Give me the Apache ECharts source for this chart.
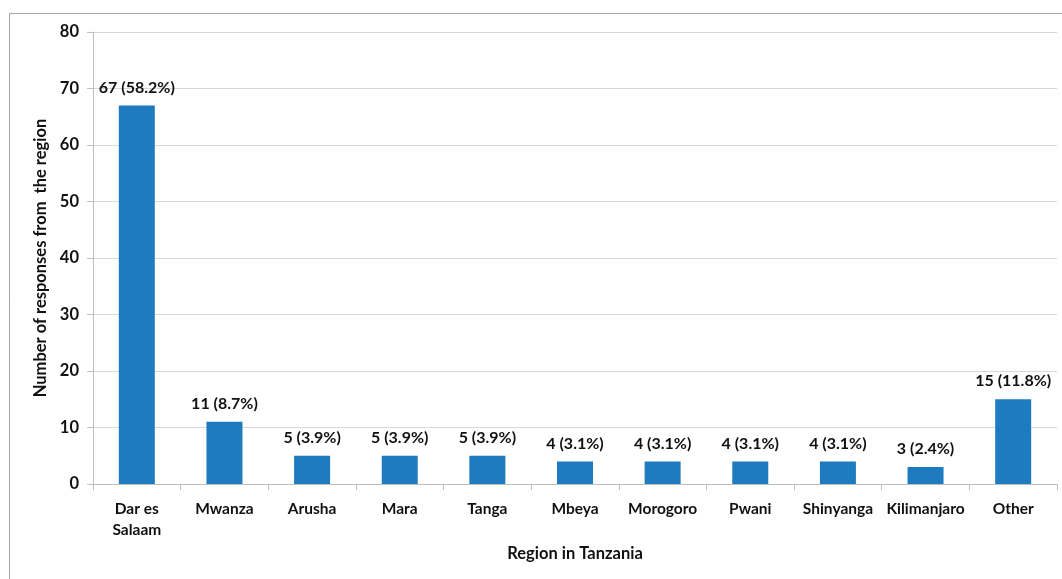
<!DOCTYPE html>
<html><head><meta charset="utf-8">
<script src="https://cdn.jsdelivr.net/npm/echarts@6/dist/echarts.min.js"></script>
<style>html,body{margin:0;padding:0;background:#fff}#c{width:1062px;height:579px}</style>
</head><body><div id="c"></div>
<script>
const categories = ['Dar es\nSalaam','Mwanza','Arusha','Mara','Tanga','Mbeya','Morogoro','Pwani','Shinyanga','Kilimanjaro','Other'];
const counts = [67,11,5,5,5,4,4,4,4,3,15];
const percents = ['58.2','8.7','3.9','3.9','3.9','3.1','3.1','3.1','3.1','2.4','11.8'];
const yTicks = {min:0,max:80,interval:10};
const FONT = 'Lato';
const chart = echarts.init(document.getElementById('c'));
chart.setOption({
  animation:false,
  backgroundColor:'#fff',
  graphic:[{type:'rect',shape:{x:9.5,y:13.5,width:1100,height:700},style:{fill:'none',stroke:'#a6a6a6',lineWidth:1},silent:true}],
  grid:{left:93,right:5,top:32,bottom:95},
  xAxis:{type:'category',data:categories,
    axisLine:{lineStyle:{color:'#bfbfbf',width:1}},
    axisTick:{show:true,length:6,lineStyle:{color:'#bfbfbf'}},
    axisLabel:{interval:0,color:'#111',fontFamily:FONT,fontWeight:'bold',fontSize:15.5,margin:14,lineHeight:21},
    name:'Region in Tanzania',nameLocation:'middle',nameGap:60,
    nameTextStyle:{color:'#111',fontFamily:FONT,fontWeight:'bold',fontSize:16.5}},
  yAxis:{type:'value',min:yTicks.min,max:yTicks.max,interval:yTicks.interval,
    axisLine:{show:true,lineStyle:{color:'#bfbfbf'}},
    axisTick:{show:true,length:6,lineStyle:{color:'#bfbfbf'}},
    splitLine:{lineStyle:{color:'#d9d9d9'}},
    axisLabel:{color:'#111',fontFamily:FONT,fontWeight:'bold',fontSize:16.5,margin:14},
    name:'Number of responses from  the region',nameLocation:'middle',nameGap:41,
    nameTextStyle:{color:'#111',fontFamily:FONT,fontWeight:'bold',fontSize:16.5}},
  series:[{type:'bar',data:counts,barWidth:36,
    itemStyle:{color:'#1f7bbf'},
    label:{show:true,position:'top',distance:10,color:'#111',fontFamily:FONT,fontWeight:'bold',fontSize:16,
      formatter:p=>p.value+' ('+percents[p.dataIndex]+'%)'}}]
});
</script></body></html>
